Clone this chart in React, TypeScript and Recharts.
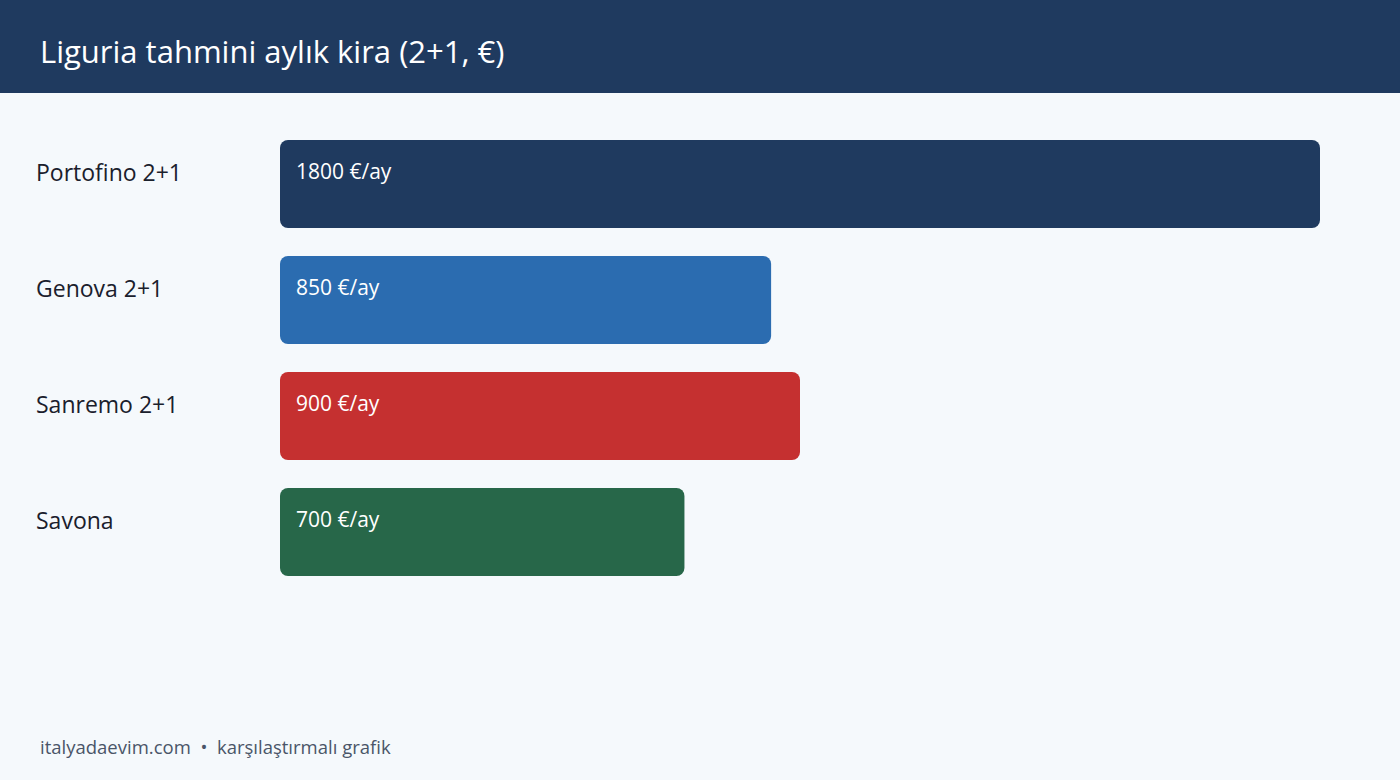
import React from 'react';
import { BarChart, Bar, XAxis, YAxis, Cell, LabelList } from 'recharts';

const cities = ['Portofino 2+1', 'Genova 2+1', 'Sanremo 2+1', 'Savona'];
const rents = [1800, 850, 900, 700];
const barColors = ['#1f3a5f', '#2b6cb0', '#c53030', '#276749'];

const data = cities.map((name, i) => ({ name, rent: rents[i] }));

const FONT = '"Open Sans", "Noto Sans", sans-serif';

const CityTick = (props: any) => {
  const { y, payload } = props;
  return (
    <text x={36} y={y} dy={-3} textAnchor="start" fill="#1a202c" fontSize={23} fontFamily={FONT}>
      {payload.value}
    </text>
  );
};

const ValueLabel = (props: any) => {
  const { x, y, value } = props;
  return (
    <text x={x + 16} y={y + 39} fill="#ffffff" fontSize={21} fontFamily={FONT}>
      {`${value} €/ay`}
    </text>
  );
};

const App: React.FC = () => {
  return (
    <div style={{ position: 'absolute', left: 0, top: 0, width: 1400, height: 780, background: '#f5f9fc', fontFamily: FONT, overflow: 'hidden' }}>
      <div style={{ position: 'absolute', left: 0, top: 0, width: 1400, height: 93, background: '#1f3a5f' }}>
        <div style={{ position: 'absolute', left: 40, top: 30, color: '#ffffff', fontSize: 31, lineHeight: '42px', whiteSpace: 'nowrap' }}>
          Liguria tahmini aylık kira (2+1, €)
        </div>
      </div>
      <div style={{ position: 'absolute', left: 0, top: 0 }}>
        <BarChart
          width={1400}
          height={780}
          data={data}
          layout="vertical"
          margin={{ top: 126, right: 80, bottom: 190, left: 0 }}
        >
          <XAxis type="number" domain={[0, 1800]} hide />
          <YAxis type="category" dataKey="name" width={280} axisLine={false} tickLine={false} tick={<CityTick />} />
          <Bar dataKey="rent" barSize={88} radius={8} isAnimationActive={false}>
            {data.map((d, i) => (
              <Cell key={d.name} fill={barColors[i]} />
            ))}
            <LabelList dataKey="rent" content={<ValueLabel />} />
          </Bar>
        </BarChart>
      </div>
      <div style={{ position: 'absolute', left: 40, top: 733, color: '#4a5568', fontSize: 18.5, lineHeight: '28px', whiteSpace: 'nowrap' }}>
        italyadaevim.com&nbsp;&nbsp;•&nbsp;&nbsp;karşılaştırmalı grafik
      </div>
    </div>
  );
};

export default App;
